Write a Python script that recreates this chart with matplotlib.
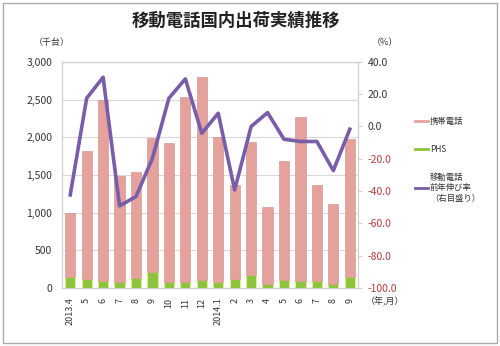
import matplotlib.pyplot as plt
from matplotlib.patches import Rectangle
from matplotlib.lines import Line2D
import numpy as np

plt.rcParams['font.family'] = ['Noto Sans CJK JP', 'DejaVu Sans']

# data
months = ['2013.4', '5', '6', '7', '8', '9', '10', '11', '12',
          '2014.1', '2', '3', '4', '5', '6', '7', '8', '9']
total = [995, 1820, 2500, 1490, 1540, 1990, 1920, 2540, 2800,
         2000, 1370, 1935, 1080, 1680, 2265, 1360, 1110, 1980]
phs = [142, 124, 88, 80, 128, 217, 84, 84, 111,
       75, 120, 177, 53, 102, 88, 88, 49, 150]
keitai = [t - p for t, p in zip(total, phs)]
growth = [-42.4, 17.5, 30.5, -49.2, -43.4, -19.7, 17.5, 29.5, -4.2,
          8.2, -39.3, 0.0, 8.6, -7.9, -9.3, -9.3, -27.3, -1.7]

pink = '#E5A29D'
green = '#8CC43C'
purple = '#7A5DA8'
txt = '#333333'

fig = plt.figure(figsize=(5, 3.46), dpi=100)
ax = fig.add_axes([0.124, 0.168, 0.592, 0.653])
x = np.arange(len(months))

ax.bar(x, phs, width=0.62, color=green, edgecolor='#E8F08A', linewidth=0.6, label='PHS', zorder=2)
ax.bar(x, keitai, width=0.62, bottom=phs, color=pink, edgecolor='#CF8C87', linewidth=0.4,
       label='携帯電話', zorder=2)

ax.set_ylim(0, 3000)
ax.set_xlim(-0.5, len(months) - 0.5)
ax.set_yticks(range(0, 3001, 500))
ax.set_yticklabels(['{:,}'.format(v) for v in range(0, 3001, 500)], fontsize=7.5, color=txt)
ax.set_xticks(x)
ax.set_xticklabels(months, rotation=90, fontsize=6.5, color=txt)
ax.yaxis.grid(True, color='#D9D9D9', linewidth=0.8, zorder=0)
ax.set_axisbelow(True)
ax.tick_params(length=0, pad=7)
for s in ax.spines.values():
    s.set_color('#D0D0D0')

ax2 = ax.twinx()
ax2.plot(x, growth, color=purple, linewidth=2.6, zorder=3)
ax2.set_ylim(-100, 40)
ticks2 = np.arange(-100, 41, 20)
ax2.set_yticks(ticks2)
ax2.set_yticklabels(['{:.1f}'.format(v) for v in ticks2], fontsize=7.5)
for lab, v in zip(ax2.get_yticklabels(), ticks2):
    lab.set_color('#B83A3A' if v < 0 else txt)
ax2.tick_params(length=3, color='#D0D0D0', pad=4)
for s in ax2.spines.values():
    s.set_color('#D0D0D0')

fig.text(0.472, 0.94, '移動電話国内出荷実績推移', ha='center', va='center',
         fontsize=12.5, fontweight='bold', color='#222222')
fig.text(0.104, 0.876, '（千台）', ha='center', va='center', fontsize=6.5, color=txt)
fig.text(0.77, 0.876, '（%）', ha='center', va='center', fontsize=6.5, color=txt)
fig.text(0.77, 0.128, '（年,月）', ha='center', va='center', fontsize=6.5, color=txt)

labels = ['携帯電話', 'PHS', '移動電話\n前年伸び率\n（右目盛り）']
handles = [Line2D([], [], color=pink, lw=2), Line2D([], [], color=green, lw=2),
           Line2D([], [], color=purple, lw=2)]
fig.legend(handles, labels, loc='upper left', bbox_to_anchor=(0.815, 0.685),
           frameon=False, fontsize=6, handlelength=1.6, handletextpad=0.2,
           labelspacing=2.3, labelcolor=txt)

fig.patches.append(Rectangle((0.006, 0.008), 0.988, 0.984, transform=fig.transFigure,
                             fill=False, edgecolor='#AAAAAA', linewidth=1))

fig.savefig('out.png', dpi=100)
